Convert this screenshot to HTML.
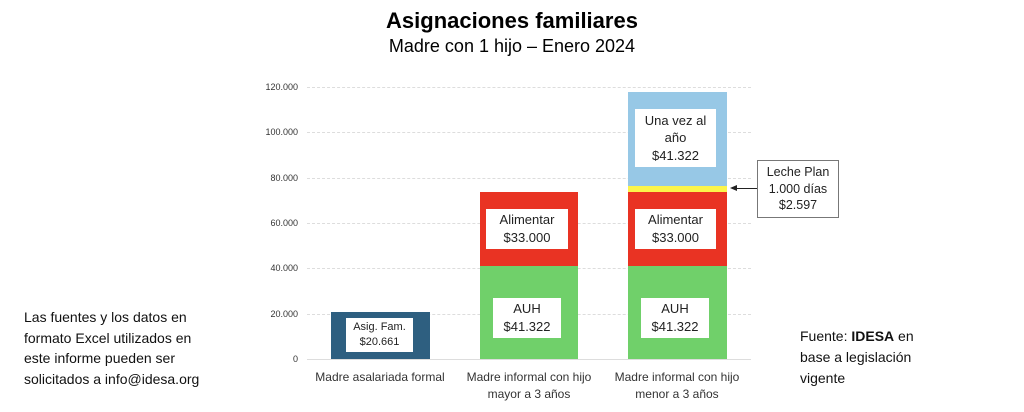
<!DOCTYPE html>
<html><head><meta charset="utf-8"><style>
body{margin:0;width:1024px;height:412px;background:#fff;font-family:"Liberation Sans",sans-serif;position:relative;overflow:hidden}
.a{position:absolute}
.g{position:absolute;left:307px;width:444px;border-top:1px dashed #ddd;height:0}
.t{position:absolute;right:726px;font-size:9px;color:#333;width:50px;text-align:right}
.s{position:absolute}
.b{position:absolute;background:#fff;text-align:center;color:#222;display:flex;flex-direction:column;justify-content:center;line-height:1.35}
.x{position:absolute;font-size:12px;color:#333;text-align:center;width:160px;line-height:17px}
</style></head><body>
<div class="a" style="left:0;width:1024px;top:8px;text-align:center;font-weight:bold;font-size:22px">Asignaciones familiares</div>
<div class="a" style="left:0;width:1024px;top:36px;text-align:center;font-size:18px">Madre con 1 hijo – Enero 2024</div>

<div class="g" style="top:87px"></div><div class="g" style="top:132px"></div><div class="g" style="top:178px"></div>
<div class="g" style="top:223px"></div><div class="g" style="top:268px"></div><div class="g" style="top:314px"></div>
<div class="g" style="top:359px;border-top:1px solid #ddd"></div>
<div class="t" style="top:82px">120.000</div><div class="t" style="top:127px">100.000</div><div class="t" style="top:173px">80.000</div>
<div class="t" style="top:218px">60.000</div><div class="t" style="top:263px">40.000</div><div class="t" style="top:309px">20.000</div>
<div class="t" style="top:354px">0</div>

<div class="s" style="left:331px;width:99px;top:312px;height:47px;background:#2e5f80"></div>
<div class="s" style="left:480px;width:98px;top:266px;height:93px;background:#70d06a"></div>
<div class="s" style="left:480px;width:98px;top:192px;height:74px;background:#e93323"></div>
<div class="s" style="left:628px;width:99px;top:266px;height:93px;background:#70d06a"></div>
<div class="s" style="left:628px;width:99px;top:192px;height:74px;background:#e93323"></div>
<div class="s" style="left:628px;width:99px;top:186px;height:6px;background:#fcf54a"></div>
<div class="s" style="left:628px;width:99px;top:92px;height:94px;background:#97c8e6"></div>

<div class="b" style="left:346px;width:67px;top:318px;height:34px;font-size:11px">Asig. Fam.<br>$20.661</div>
<div class="b" style="left:486px;width:82px;top:209px;height:40px;font-size:13px">Alimentar<br>$33.000</div>
<div class="b" style="left:493px;width:68px;top:298px;height:40px;font-size:13px">AUH<br>$41.322</div>
<div class="b" style="left:635px;width:81px;top:209px;height:40px;font-size:13px">Alimentar<br>$33.000</div>
<div class="b" style="left:641px;width:68px;top:298px;height:40px;font-size:13px">AUH<br>$41.322</div>
<div class="b" style="left:635px;width:81px;top:109px;height:58px;font-size:13px">Una vez al<br>año<br>$41.322</div>
<div class="b" style="left:757px;width:80px;top:160px;height:56px;font-size:12.5px;border:1px solid #777">Leche Plan<br>1.000 días<br>$2.597</div>
<div class="s" style="left:736px;width:21px;top:188px;height:1px;background:#222"></div>
<div class="s" style="left:730px;top:185px;width:0;height:0;border-top:3.5px solid transparent;border-bottom:3.5px solid transparent;border-right:7px solid #222"></div>

<div class="x" style="left:300px;top:369px">Madre asalariada formal</div>
<div class="x" style="left:449px;top:369px">Madre informal con hijo<br>mayor a 3 años</div>
<div class="x" style="left:597px;top:369px">Madre informal con hijo<br>menor a 3 años</div>

<div class="a" style="left:24px;top:307px;font-size:14px;line-height:20.5px;color:#111">Las fuentes y los datos en<br>formato Excel utilizados en<br>este informe pueden ser<br>solicitados a info@idesa.org</div>
<div class="a" style="left:800px;top:326px;font-size:14px;line-height:21px;color:#111">Fuente: <b>IDESA</b> en<br>base a legislación<br>vigente</div>
</body></html>
